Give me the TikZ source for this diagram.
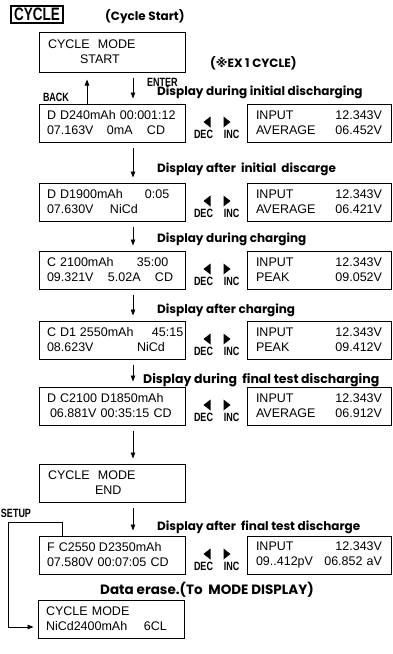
\documentclass[tikz,border=0pt]{standalone}
\usepackage{fontspec}
\setmainfont{Liberation Sans}
\newfontfamily\headfont{Poppins}
\newfontfamily\keyfont{Liberation Sans}[FakeStretch=0.75]
\newfontfamily\markfont{DejaVu Sans}
\usetikzlibrary{arrows.meta,calc,positioning}
\newcommand\cell[2]{\makebox[#1pt][l]{#2}}
\tikzset{>={Triangle[width=4.5pt,length=6pt]},
  every node/.style={inner sep=0pt},
  lcd/.style={draw,line width=1pt,text width=130pt,inner xsep=8pt,
    minimum height=38pt,align=left,font=\fontsize{12.5}{15}\selectfont},
  panel/.style={lcd,text width=126pt,inner xsep=9pt},
  caption/.style={anchor=west,font=\headfont\bfseries\fontsize{12}{14}\selectfont},
  key/.style={font=\keyfont\bfseries\fontsize{12}{13}\selectfont},
  flow/.style={->,line width=.8pt,shorten <=5pt,shorten >=5pt}}

\begin{document}
\begin{tikzpicture}[x=1pt,y=-1pt]
\useasboundingbox (0,0) rectangle (392,654);
% header
\node[draw,line width=1.6pt,inner xsep=3pt,inner ysep=2pt,
  font=\keyfont\bfseries\fontsize{18}{18}\selectfont] (cyc) at (37,14.5) {CYCLE};
\node[caption] (start) at (105,17) {(Cycle Start)};
\node[caption] (ex) at (210,63) {({\markfont ※}EX 1 CYCLE)};
% left displays
\node[lcd,minimum height=40pt] (m1) at (112,52) {\hspace*{1pt}CYCLE\ \ MODE\\\hspace*{33pt}START};
\node[lcd] (m2) at (112,123) {D D240mAh 00:001:12\\\cell{60}{07.163V}\cell{40}{0mA}CD};
\node[lcd] (m3) at (112,202) {\cell{98}{D D1900mAh}0:05\\\cell{63}{07.630V}NiCd};
\node[lcd] (m4) at (112,270) {\cell{90}{C 2100mAh}35:00\\\cell{61}{09.321V}\cell{47}{5.02A}CD};
\node[lcd] (m5) at (112,340) {\cell{33}{C D1}\cell{72}{2550mAh}45:15\\\cell{90}{08.623V}NiCd};
\node[lcd] (m6) at (112,406) {\cell{54}{D C2100}D1850mAh\\\hspace*{3pt}06.881V 00:35:15 CD};
\node[lcd] (m7) at (112,483) {\hspace*{1pt}CYCLE\ \ MODE\\\hspace*{48pt}END};
\node[lcd] (m8) at (112,555) {\cell{52}{F C2550}D2350mAh\\07.580V 00:07:05 CD};
\node[lcd] (m9) at (111,619) {CYCLE MODE\\\cell{98}{NiCd2400mAh}6CL};
% right displays
\node[panel,right=61pt of m2] (p2) {INPUT\hfill 12.343V\\AVERAGE\hfill 06.452V};
\node[panel,right=61pt of m3] (p3) {INPUT\hfill 12.343V\\AVERAGE\hfill 06.421V};
\node[panel,right=61pt of m4] (p4) {INPUT\hfill 12.343V\\PEAK\hfill 09.052V};
\node[panel,right=61pt of m5] (p5) {INPUT\hfill 12.343V\\PEAK\hfill 09.412V};
\node[panel,right=61pt of m6] (p6) {INPUT\hfill 12.343V\\AVERAGE\hfill 06.912V};
\node[panel,right=61pt of m8] (p8) {INPUT\hfill 12.343V\\09..412pV\hfill 06.852 aV\hspace*{-8pt}};
% dec / inc keys
\foreach \n in {2,3,4,5,6,8}{
  \fill ([xshift=18pt,yshift=1pt]m\n.east) -- ++(7,-5.5) -- ++(0,11) -- cycle;
  \fill ([xshift=45pt,yshift=1pt]m\n.east) -- ++(-7,-5.5) -- ++(0,11) -- cycle;
  \node[key] (dec\n) at ([xshift=18pt,yshift=-11pt]m\n.east) {DEC};
  \node[key] (inc\n) at ([xshift=46pt,yshift=-11pt]m\n.east) {INC};}
% captions
\node[caption] (t1) at (157,92) {Display during initial discharging};
\node[caption] (t2) at (157,169) {Display after\ \ initial\ \ discarge};
\node[caption] (t3) at (157,239) {Display during charging};
\node[caption] (t4) at (157,310) {Display after charging};
\node[caption,font=\headfont\bfseries\fontsize{12.5}{14}\selectfont] (t5) at (143,380)
  {Display during\ \ final test discharging};
\node[caption] (t6) at (157,527) {Display after\ \ final test discharge};
\node[caption,anchor=center,font=\headfont\bfseries\fontsize{13.5}{15}\selectfont]
  (t7) at (207,590) {Data erase.(To\ \ MODE DISPLAY)};
% flow
\node[key] (back) at (56,97) {BACK};
\node[key,anchor=west] (enter) at (147,82) {ENTER};
\node[key] (setup) at (16,513) {SETUP};
\draw[flow,shorten <=0pt,shorten >=7pt] ([xshift=-25pt]m2.north) -- ([xshift=-25pt]m1.south);
\foreach \a/\b in {1/2,2/3,3/4,4/5,5/6,6/7,7/8}
  \draw[flow] ([xshift=21pt]m\a.south) -- ([xshift=21pt]m\b.north);
\draw[flow,shorten <=0pt,shorten >=4pt] ([xshift=-50pt]m8.north) |- (8,522)
  |- ($(m9.west)+(0,8)$);
\end{tikzpicture}
\end{document}
